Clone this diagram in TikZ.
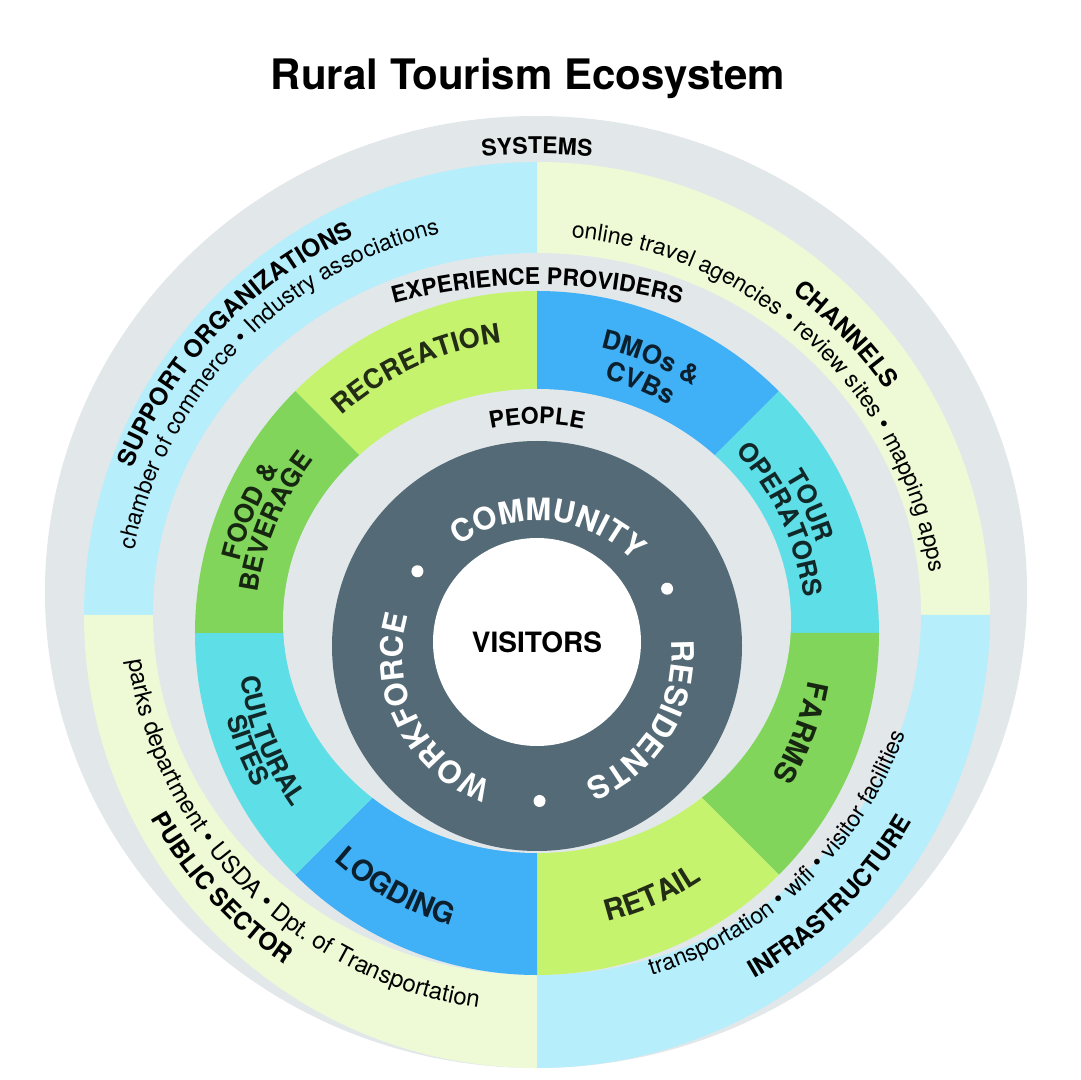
\documentclass[tikz,border=0pt]{standalone}
\usepackage{fontspec}
\setmainfont{TeX Gyre Heros}
\usepackage{xcolor}
\usepackage{tikz}
\usetikzlibrary{decorations.text}

\definecolor{ringgrey}{HTML}{E2E7EA}
\definecolor{sysblue}{HTML}{B7EEFB}
\definecolor{sysgreen}{HTML}{EEFAD6}
\definecolor{recgreen}{HTML}{C5F36E}
\definecolor{leafgreen}{HTML}{80D55A}
\definecolor{skyblue}{HTML}{40B0F7}
\definecolor{tealcyan}{HTML}{5EDEE6}
\definecolor{slate}{HTML}{546B77}
\colorlet{rectext}{black!82!recgreen}
\colorlet{leaftext}{black!82!leafgreen}
\colorlet{skytext}{black!82!skyblue}
\colorlet{tealtext}{black!82!tealcyan}

\newcommand{\titlefont}{\bfseries\fontsize{21}{24}\selectfont}
\newcommand{\layerfont}{\bfseries\fontsize{11.5}{12}\selectfont}
\newcommand{\groupfont}{\bfseries\fontsize{12.2}{13}\selectfont}
\newcommand{\notefont}{\fontsize{11.5}{12}\selectfont}
\newcommand{\sectorfont}{\bfseries\fontsize{13}{14}\selectfont}
\newcommand{\bigsectorfont}{\bfseries\fontsize{14.5}{15}\selectfont}
\newcommand{\ringfont}{\bfseries\fontsize{15.5}{16}\selectfont\color{white}}
\newcommand{\centerfont}{\bfseries\fontsize{14}{15}\selectfont}

% text on an arc: centre, middle angle, baseline radius, text
\newcommand{\cwlabel}[4]{%
  \path[decorate, decoration={text along path, text align=center, text={#4}}, shift={#1}]
    (#2+70:#3) arc[start angle=#2+70, end angle=#2-70, radius=#3];}
\newcommand{\ccwlabel}[4]{%
  \path[decorate, decoration={text along path, text align=center, text={#4}}, shift={#1}]
    (#2-70:#3) arc[start angle=#2-70, end angle=#2+70, radius=#3];}

\begin{document}
\begin{tikzpicture}[x=0.5pt, y=0.5pt]
  \useasboundingbox (-537,-447) rectangle (543,633);

  % Title
  \node[font=\titlefont, anchor=base] (title) at (-9,543) {Rural Tourism Ecosystem};

  % Systems
  \fill[ringgrey] (-1,41) ellipse[x radius=491, y radius=476];
  \foreach \a/\c in {0/sysgreen, 90/sysblue, 180/sysgreen, 270/sysblue}
    \fill[\c] (0,18) -- ++(\a:453) arc[start angle=\a, delta angle=90, radius=453] -- cycle;

  % Experience providers
  \fill[ringgrey] (0,19) ellipse[x radius=384, y radius=361];
  \foreach \a/\c in {90/recgreen, 45/skyblue, 0/tealcyan, -45/leafgreen,
                     -90/recgreen, -135/skyblue, 180/tealcyan, 135/leafgreen}
    \fill[\c] (0,0) -- (\a:342) arc[start angle=\a, delta angle=45, radius=342] -- cycle;

  % People
  \fill[ringgrey] (0,12) ellipse[x radius=254, y radius=232];
  \fill[slate] (0,-13) circle[radius=205];
  \fill[white] (0,-9) circle[radius=104];
  \node[font=\centerfont] (visitors) at (0,-9) {VISITORS};

  % Layer names
  \cwlabel{(0,-88)}{90}{567}{|\layerfont|SYSTEMS}
  \cwlabel{(0,-207)}{90}{555}{|\layerfont|EXPERIENCE PROVIDERS}
  \cwlabel{(0,-13)}{90}{222}{|\layerfont|PEOPLE}

  % System groups
  \cwlabel{(0,0)}{136.3}{437}{|\groupfont|SUPPORT ORGANIZATIONS}
  \cwlabel{(0,0)}{136}{411}{|\notefont|chamber of commerce {\textbullet} Industry associations}
  \cwlabel{(0,0)}{44}{425}{|\groupfont|CHANNELS}
  \cwlabel{(0,0)}{46.9}{397}{|\notefont|online travel agencies {\textbullet} review sites {\textbullet} mapping apps}
  \ccwlabel{(-1,33)}{-137.5}{443}{|\groupfont|PUBLIC SECTOR}
  \ccwlabel{(-1,33)}{-134.8}{412}{|\notefont\fontsize{12}{12}\selectfont|parks department {\textbullet} USDA {\textbullet} Dpt. of Transportation}
  \ccwlabel{(-1,33)}{-45.3}{437}{|\groupfont|INFRASTRUCTURE}
  \ccwlabel{(-1,33)}{-46.4}{393}{|\notefont|transportation {\textbullet} wifi {\textbullet} visitor facilities}

  % Experience sectors
  \cwlabel{(0,0)}{114.5}{292}{|\sectorfont\fontsize{13.5}{14}\selectfont\color{rectext}|RECREATION}
  \cwlabel{(0,0)}{67.5}{292}{|\sectorfont\color{skytext}|DMOs {\&}}
  \cwlabel{(0,0)}{67.5}{263}{|\sectorfont\color{skytext}|CVBs}
  \cwlabel{(0,0)}{25}{294}{|\sectorfont\color{tealtext}|TOUR}
  \cwlabel{(0,0)}{25}{269}{|\sectorfont\color{tealtext}|OPERATORS}
  \cwlabel{(0,0)}{-20.7}{275}{|\bigsectorfont\color{leaftext}|FARMS}
  \ccwlabel{(0,0)}{-66.2}{297}{|\bigsectorfont\color{rectext}|RETAIL}
  \ccwlabel{(0,0)}{-119}{305}{|\bigsectorfont\color{skytext}|LOGDING}
  \ccwlabel{(0,0)}{-158}{300}{|\sectorfont\color{tealtext}|CULTURAL}
  \ccwlabel{(0,0)}{-158}{322}{|\sectorfont\color{tealtext}|SITES}
  \cwlabel{(0,0)}{157}{306}{|\sectorfont\color{leaftext}|FOOD {\&}}
  \cwlabel{(0,0)}{157}{282}{|\sectorfont\color{leaftext}|BEVERAGE}

  % Community ring
  \begin{scope}[shift={(0,-22)}]
    \cwlabel{(0,0)}{85}{134.5}{|\ringfont|COMMUNITY}
    \cwlabel{(0,0)}{-31.5}{134.5}{|\ringfont|RESIDENTS}
    \cwlabel{(0,0)}{-153}{134.5}{|\ringfont|WORKFORCE}
    \foreach \a in {27, -89, 145}
      \fill[white] (\a:146) circle[radius=6];
  \end{scope}
\end{tikzpicture}
\end{document}
